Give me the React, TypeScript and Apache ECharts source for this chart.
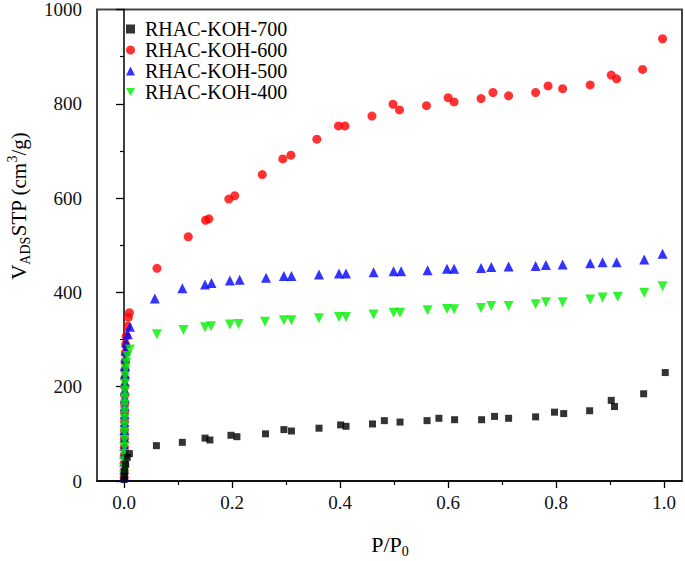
import React, { useEffect, useRef } from "react";
import * as echarts from "echarts";

const seriesNames = ["RHAC-KOH-700", "RHAC-KOH-600", "RHAC-KOH-500", "RHAC-KOH-400"];

const koh700: [number, number][] = [
  [0.0003, 3], [0.0005, 10], [0.001, 20], [0.003, 35], [0.006, 50], [0.01, 58],
  [0.06, 75], [0.108, 82], [0.15, 91], [0.159, 87], [0.198, 97], [0.209, 94],
  [0.262, 100], [0.296, 109], [0.31, 106], [0.361, 112], [0.401, 119], [0.411, 116],
  [0.46, 121], [0.482, 128], [0.511, 125], [0.561, 128], [0.583, 133], [0.612, 130],
  [0.662, 130], [0.686, 137], [0.712, 133], [0.762, 136], [0.797, 146], [0.814, 143],
  [0.862, 149], [0.902, 171], [0.908, 158], [0.962, 185], [1.002, 230],
];

const koh600: [number, number][] = [
  [0.0003, 8], [0.0004, 22], [0.0005, 38], [0.0006, 55], [0.0007, 72], [0.0008, 90],
  [0.0009, 108], [0.001, 126], [0.0011, 145], [0.0012, 163], [0.0013, 182], [0.0014, 200],
  [0.0016, 218], [0.0018, 236], [0.002, 254], [0.0025, 272], [0.003, 290], [0.004, 307],
  [0.006, 328], [0.008, 347], [0.01, 357],
  [0.061, 451], [0.119, 518], [0.151, 553], [0.157, 556], [0.194, 598], [0.205, 605],
  [0.256, 650], [0.294, 683], [0.309, 691], [0.357, 725], [0.397, 753], [0.409, 753],
  [0.459, 774], [0.498, 799], [0.51, 787], [0.56, 796], [0.6, 813], [0.611, 804],
  [0.661, 811], [0.683, 824], [0.712, 817], [0.762, 824], [0.785, 838], [0.812, 832],
  [0.863, 840], [0.902, 861], [0.912, 853], [0.96, 873], [0.997, 938],
];

const koh500: [number, number][] = [
  [0.0003, 10], [0.0004, 25], [0.0005, 41], [0.0006, 57], [0.0007, 74], [0.0008, 91],
  [0.0009, 108], [0.001, 125], [0.0011, 142], [0.0012, 159], [0.0013, 176], [0.0014, 193],
  [0.0016, 210], [0.0018, 227], [0.002, 244], [0.0025, 260], [0.003, 276], [0.004, 293],
  [0.007, 311], [0.011, 327],
  [0.057, 387], [0.108, 409], [0.15, 417], [0.162, 420], [0.196, 425], [0.214, 427],
  [0.263, 431], [0.296, 435], [0.31, 435], [0.361, 438], [0.398, 440], [0.411, 440],
  [0.462, 443], [0.499, 445], [0.513, 445], [0.562, 447], [0.598, 450], [0.611, 450],
  [0.661, 452], [0.68, 454], [0.712, 455], [0.762, 456], [0.781, 458], [0.812, 459],
  [0.863, 462], [0.886, 464], [0.912, 464], [0.963, 470], [0.997, 482],
];

const koh400: [number, number][] = [
  [0.0003, 12], [0.0004, 27], [0.0005, 42], [0.0006, 57], [0.0007, 72], [0.0008, 87],
  [0.0009, 102], [0.001, 117], [0.0011, 132], [0.0012, 147], [0.0013, 162], [0.0014, 177],
  [0.0016, 192], [0.0018, 207], [0.002, 222], [0.003, 237], [0.004, 251], [0.006, 265],
  [0.011, 279],
  [0.061, 311], [0.11, 320], [0.15, 326], [0.161, 328], [0.196, 332], [0.212, 333],
  [0.261, 338], [0.296, 341], [0.31, 341], [0.361, 345], [0.398, 348], [0.411, 348],
  [0.462, 353], [0.499, 357], [0.511, 357], [0.562, 362], [0.598, 365], [0.611, 364],
  [0.661, 367], [0.68, 371], [0.712, 371], [0.762, 375], [0.781, 379], [0.812, 379],
  [0.863, 385], [0.886, 389], [0.914, 391], [0.963, 399], [0.997, 413],
];

const xTicks = [0, 0.2, 0.4, 0.6, 0.8, 1.0];
const yTicks = [0, 200, 400, 600, 800, 1000];

const FONT = "'Liberation Serif', 'Times New Roman', serif";

function richFor(size: number, small: number) {
  return {
    n: { fontSize: size, fontFamily: FONT, color: "#000", lineHeight: size + 6 },
    sub: { fontSize: small, fontFamily: FONT, color: "#000", lineHeight: small, verticalAlign: "bottom" },
    sup: { fontSize: small, fontFamily: FONT, color: "#000", lineHeight: small, verticalAlign: "top" },
  };
}

export default function App() {
  const ref = useRef<HTMLDivElement>(null);
  useEffect(() => {
    if (!ref.current) return;
    const chart = echarts.init(ref.current, null, { renderer: "svg" });
    chart.setOption({
      animation: false,
      backgroundColor: "#fff",
      grid: {
        left: 97,
        right: 3,
        top: 9,
        bottom: 80,
        show: true,
        borderColor: "#444",
        borderWidth: 2,
        backgroundColor: "transparent",
      },
      legend: {
        orient: "vertical",
        left: 126,
        top: 19,
        padding: 0,
        itemGap: 1,
        itemWidth: 9,
        itemHeight: 9,
        data: [
          { name: seriesNames[0], icon: "rect" },
          { name: seriesNames[1], icon: "circle" },
          { name: seriesNames[2], icon: "triangle" },
          { name: seriesNames[3], icon: "path://M0,0 L10,0 L5,8.66 Z" },
        ],
        textStyle: {
          fontFamily: FONT,
          fontSize: 20,
          color: "#000",
          lineHeight: 20,
          padding: [0, 0, 0, 5],
        },
      },
      xAxis: {
        type: "value",
        min: -0.05,
        max: 1.033,
        splitLine: { show: false },
        axisLine: { show: true, lineStyle: { color: "#000", width: 1.5 } },
        axisTick: {
          show: true,
          inside: false,
          length: 7,
          customValues: xTicks,
          lineStyle: { color: "#000", width: 1.3 },
        },
        minorTick: { show: true, splitNumber: 2, length: 4, lineStyle: { color: "#000", width: 1.2 } },
        axisLabel: {
          customValues: xTicks,
          formatter: (v: number) => v.toFixed(1),
          fontFamily: FONT,
          fontSize: 19,
          color: "#111",
          margin: 12,
        },
      },
      yAxis: {
        type: "value",
        min: 0,
        max: 1000,
        interval: 200,
        splitLine: { show: false },
        axisLine: { show: true, lineStyle: { color: "#000", width: 1.5 } },
        axisTick: { show: true, inside: false, length: 8, lineStyle: { color: "#000", width: 1.3 } },
        minorTick: { show: true, splitNumber: 2, length: 4, lineStyle: { color: "#000", width: 1.2 } },
        axisLabel: {
          customValues: yTicks,
          formatter: (v: number) => String(v),
          fontFamily: FONT,
          fontSize: 19,
          color: "#111",
          margin: 15,
        },
      },
      series: [
        {
          name: seriesNames[1],
          type: "scatter",
          data: koh600,
          symbol: "circle",
          symbolSize: 9,
          itemStyle: { color: "#ff0000" },
        },
        {
          name: seriesNames[2],
          type: "scatter",
          data: koh500,
          symbol: "triangle",
          symbolSize: 10,
          itemStyle: { color: "#0000ff" },
        },
        {
          name: seriesNames[3],
          type: "scatter",
          data: koh400,
          symbol: "triangle",
          symbolRotate: 180,
          symbolSize: 10,
          itemStyle: { color: "#00f000" },
        },
        {
          name: seriesNames[0],
          type: "scatter",
          data: koh700,
          symbol: "rect",
          symbolSize: 7,
          itemStyle: { color: "#000000" },
        },
      ],
      graphic: [
        {
          type: "text",
          x: 19,
          y: 206,
          rotation: Math.PI / 2,
          style: {
            text: "{n|V}{sub|ADS}{n|STP (cm}{sup|3}{n|/g)}",
            rich: richFor(21, 14),
            align: "center",
            verticalAlign: "middle",
          },
        },
        {
          type: "text",
          x: 390,
          y: 544,
          style: {
            text: "{n|P/P}{sub|0}",
            rich: richFor(22, 14),
            align: "center",
            verticalAlign: "middle",
          },
        },
      ],
    });
    return () => chart.dispose();
  }, []);
  return (
    <div
      ref={ref}
      style={{ position: "absolute", left: 0, top: 0, width: 685, height: 561, background: "#fff" }}
    />
  );
}
